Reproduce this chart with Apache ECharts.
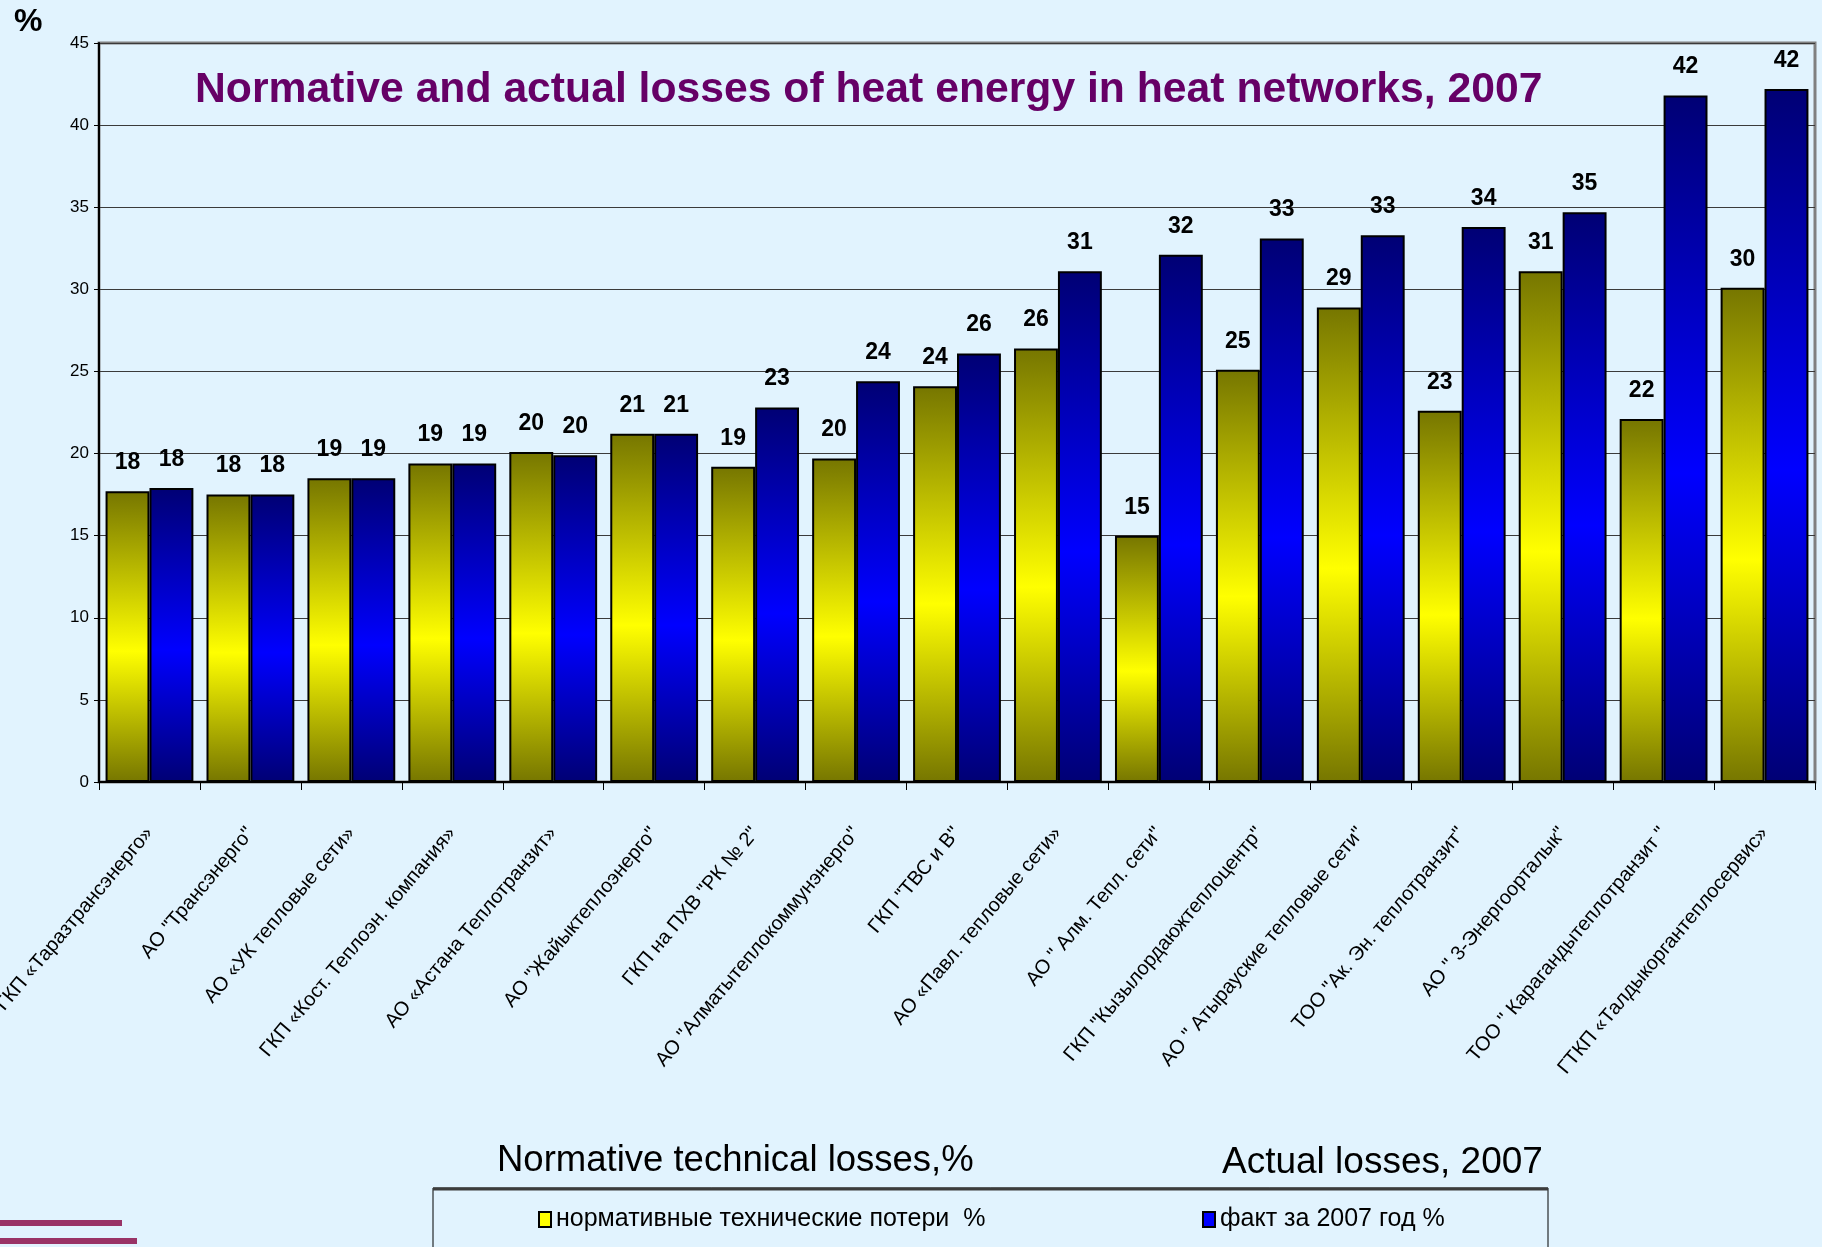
<!DOCTYPE html>
<html>
<head>
<meta charset="utf-8">
<script src="https://cdn.jsdelivr.net/npm/echarts@6/dist/echarts.min.js"></script>
<style>
  html, body { margin: 0; padding: 0; background: #e1f3fe; }
  #chart { width: 1822px; height: 1247px; }
</style>
</head>
<body>
<div id="chart"></div>
<script>
// категории (предприятия)
const categories = [
  'ГКП «Таразтрансэнерго»',
  'АО "Трансэнерго"',
  'АО «УК тепловые сети»',
  'ГКП «Кост. Теплоэн. компания»',
  'АО «Астана Теплотранзит»',
  'АО "Жайыктеплоэнерго"',
  'ГКП на ПХВ "РК № 2"',
  'АО "Алматытеплокоммунэнерго"',
  'ГКП "ТВС и В"',
  'АО «Павл. тепловые сети»',
  'АО " Алм. Тепл. сети"',
  'ГКП "Кызылордаюжтеплоцентр"',
  'АО " Атырауские тепловые сети"',
  'ТОО "Ак. Эн. теплотранзит"',
  'АО " 3-Энергоорталык"',
  'ТОО " Карагандытеплотранзит "',
  'ГТКП «Талдыкоргантеплосервис»'
]

// нормативные технические потери, %
const normative = [17.7, 17.5, 18.5, 19.4, 20.1, 21.2, 19.2, 19.7, 24.1, 26.4, 15.0, 25.1, 28.9, 22.6, 31.1, 22.1, 30.1]
// факт за 2007 год, %
const actual = [17.9, 17.5, 18.5, 19.4, 19.9, 21.2, 22.8, 24.4, 26.1, 31.1, 32.1, 33.1, 33.3, 33.8, 34.7, 41.8, 42.2]

const seriesNames = ['нормативные технические потери  %', 'факт за 2007 год %']
const yTicks = { min: 0, max: 45, interval: 5 }

const font = "'Liberation Sans', Arial, sans-serif"
const bg = '#e1f3fe'

const grad = (edge, mid) => new echarts.graphic.LinearGradient(0, 0, 0, 1, [
  { offset: 0, color: edge },
  { offset: 0.55, color: mid },
  { offset: 1, color: edge }
])

const barLabel = {
  show: true,
  position: 'top',
  distance: 17,
  color: '#000',
  fontFamily: font,
  fontWeight: 'bold',
  fontSize: 23,
  formatter: p => Math.round(p.value)
}

const legendText = { fontFamily: font, fontSize: 25, color: '#000' }

const chart = echarts.init(document.getElementById('chart'))

chart.setOption({
  backgroundColor: bg,
  animation: false,
  grid: {
    left: 99, right: 7, top: 43, bottom: 465,
    outerBoundsMode: 'none',
    containLabel: false,
    show: true,
    borderColor: '#808080',
    borderWidth: 3,
    backgroundColor: bg
  },
  legend: [
    {
      data: [{ name: seriesNames[0], itemStyle: { color: '#ffff00', borderColor: '#000', borderWidth: 2 } }],
      icon: 'rect',
      left: 533, top: 1202,
      itemWidth: 12, itemHeight: 15, itemGap: 5,
      textStyle: legendText
    },
    {
      data: [{ name: seriesNames[1], itemStyle: { color: '#0000ff', borderColor: '#000', borderWidth: 2 } }],
      icon: 'rect',
      left: 1197, top: 1202,
      itemWidth: 12, itemHeight: 15, itemGap: 5,
      textStyle: legendText
    }
  ],
  xAxis: {
    type: 'category',
    data: categories,
    axisLine: { lineStyle: { color: '#000', width: 2 } },
    axisTick: { show: true, length: 8, lineStyle: { color: '#000' } },
    axisLabel: {
      rotate: 50,
      interval: 0,
      margin: 48,
      color: '#000',
      fontFamily: font,
      fontSize: 20
    }
  },
  yAxis: {
    type: 'value',
    min: yTicks.min,
    max: yTicks.max,
    interval: yTicks.interval,
    axisLine: { show: true, lineStyle: { color: '#000', width: 2 } },
    axisTick: { show: true, length: 5, lineStyle: { color: '#000' } },
    axisLabel: { color: '#000', fontFamily: font, fontSize: 17, margin: 10 },
    splitLine: { lineStyle: { color: '#3a3a3a', width: 1 } }
  },
  series: [
    {
      name: seriesNames[0],
      type: 'bar',
      data: normative,
      barGap: '0%',
      barCategoryGap: '13%',
      itemStyle: { color: grad('#767600', '#ffff00'), borderColor: '#000', borderWidth: 2 },
      label: barLabel
    },
    {
      name: seriesNames[1],
      type: 'bar',
      data: actual,
      itemStyle: { color: grad('#000074', '#0000ff'), borderColor: '#000', borderWidth: 2 },
      label: barLabel
    }
  ],
  graphic: [
    {
      type: 'text', left: 14, top: 6,
      style: { text: '%', fontFamily: font, fontWeight: 'bold', fontSize: 32, fill: '#000' }
    },
    {
      type: 'text', left: 195, top: 69,
      style: {
        text: 'Normative and actual losses of heat energy in heat networks, 2007',
        fontFamily: font, fontWeight: 'bold', fontSize: 42.7, fill: '#660066'
      }
    },
    {
      type: 'text', left: 497, top: 1142,
      style: { text: 'Normative technical losses,%', fontFamily: font, fontSize: 36.5, fill: '#000' }
    },
    {
      type: 'text', left: 1222, top: 1144,
      style: { text: 'Actual losses, 2007', fontFamily: font, fontSize: 37, fill: '#000' }
    },
    {
      type: 'rect', z: -1,
      shape: { x: 433, y: 1188, width: 1115, height: 80 },
      style: { fill: bg, stroke: '#000', lineWidth: 1 }
    },
    {
      type: 'line',
      shape: { x1: 433, y1: 1189, x2: 1548, y2: 1189 },
      style: { stroke: '#3c3c3c', lineWidth: 3 }
    },
    {
      type: 'line',
      shape: { x1: 0, y1: 1223, x2: 122, y2: 1223 },
      style: { stroke: '#993366', lineWidth: 6 }
    },
    {
      type: 'line',
      shape: { x1: 0, y1: 1241, x2: 137, y2: 1241 },
      style: { stroke: '#993366', lineWidth: 6 }
    }
  ]
})
</script>
</body>
</html>
